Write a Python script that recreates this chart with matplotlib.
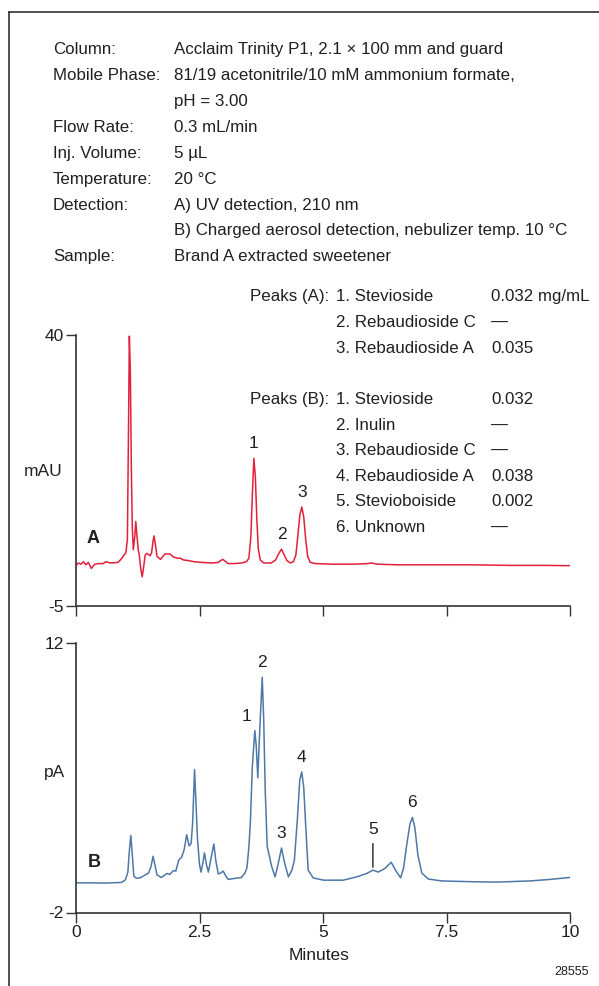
import matplotlib
matplotlib.use("Agg")
import matplotlib.pyplot as plt
import numpy as np
from matplotlib.lines import Line2D

plt.rcParams['font.family'] = ['Liberation Sans', 'DejaVu Sans']
plt.rcParams['axes.unicode_minus'] = False

# ---- data ----
# A) UV detection, 210 nm
time_a = [0.00, 0.05, 0.10, 0.15, 0.20, 0.25, 0.31, 0.38, 0.45, 0.55, 0.60, 0.70, 0.85, 0.92,
          0.96, 1.01, 1.04, 1.06, 1.08, 1.10, 1.12, 1.14, 1.16, 1.19, 1.21, 1.23, 1.26, 1.28,
          1.31, 1.34, 1.37, 1.40, 1.43, 1.47, 1.50, 1.53, 1.56, 1.58, 1.61, 1.64, 1.68, 1.71,
          1.76, 1.80, 1.90, 1.97, 2.05, 2.11, 2.18, 2.27, 2.40, 2.55, 2.75, 2.88, 2.93, 2.97,
          3.02, 3.08, 3.20, 3.35, 3.45, 3.50, 3.54, 3.57, 3.60, 3.63, 3.66, 3.69, 3.73, 3.80,
          3.95, 4.04, 4.10, 4.16, 4.21, 4.27, 4.34, 4.40, 4.45, 4.49, 4.53, 4.57, 4.61, 4.65,
          4.69, 4.74, 4.85, 5.20, 5.60, 5.90, 5.98, 6.10, 6.50, 7.20, 8.00, 8.80, 9.50, 10.00]
signal_a = [1.7, 2.1, 1.9, 2.3, 1.8, 2.2, 1.2, 1.9, 2.0, 2.0, 2.3, 2.1, 2.2, 2.8,
            3.3, 3.8, 6.0, 22.0, 39.8, 34.0, 18.0, 8.0, 4.3, 6.5, 9.0, 7.0, 4.3, 3.5,
            1.2, -0.2, 1.5, 3.4, 3.7, 3.5, 3.3, 3.8, 5.8, 6.6, 5.0, 3.2, 2.9, 2.7,
            3.2, 3.6, 3.6, 3.1, 2.9, 2.9, 2.6, 2.5, 2.3, 2.2, 2.1, 2.2, 2.5, 2.7,
            2.4, 2.0, 2.0, 2.1, 2.3, 2.9, 6.5, 13.5, 19.5, 16.5, 9.5, 4.5, 2.6, 2.1,
            2.1, 2.6, 3.6, 4.4, 3.5, 2.5, 2.1, 2.3, 3.4, 6.5, 10.0, 11.4, 9.8, 6.0,
            3.2, 2.2, 2.0, 1.9, 1.9, 2.0, 2.1, 1.9, 1.8, 1.8, 1.8, 1.7, 1.7, 1.65]

# B) Charged aerosol detection
time_b = [0.00, 0.30, 0.60, 0.92, 1.00, 1.05, 1.08, 1.11, 1.14, 1.17, 1.22, 1.30, 1.40, 1.47,
          1.52, 1.56, 1.60, 1.64, 1.73, 1.84, 1.90, 1.97, 2.02, 2.08, 2.14, 2.19, 2.24, 2.29,
          2.33, 2.36, 2.40, 2.43, 2.46, 2.50, 2.53, 2.57, 2.60, 2.64, 2.68, 2.74, 2.79, 2.83,
          2.88, 2.93, 2.98, 3.03, 3.08, 3.18, 3.35, 3.42, 3.46, 3.50, 3.53, 3.57, 3.62, 3.65,
          3.68, 3.72, 3.77, 3.80, 3.83, 3.87, 3.96, 4.03, 4.09, 4.16, 4.22, 4.30, 4.37, 4.42,
          4.48, 4.53, 4.57, 4.61, 4.65, 4.70, 4.80, 5.01, 5.41, 5.68, 5.88, 6.01, 6.12, 6.26,
          6.38, 6.48, 6.57, 6.63, 6.70, 6.76, 6.81, 6.86, 6.92, 7.00, 7.13, 7.40, 8.00, 8.52,
          9.19, 9.60, 10.00]
signal_b = [-0.46, -0.46, -0.47, -0.44, -0.30, 0.10, 1.20, 2.00, 1.00, -0.10, -0.22, -0.20, -0.05, 0.05,
            0.40, 0.92, 0.45, -0.05, -0.18, 0.03, -0.02, 0.18, 0.15, 0.72, 0.88, 1.27, 2.04, 1.46,
            1.58, 2.60, 5.42, 3.60, 1.80, 0.50, 0.10, 0.60, 1.10, 0.50, 0.10, 0.90, 1.56, 0.70,
            0.00, 0.05, 0.15, -0.10, -0.28, -0.24, -0.18, 0.05, 0.32, 1.40, 2.70, 5.60, 7.45, 6.60,
            5.00, 7.50, 10.22, 8.00, 4.40, 1.44, 0.40, -0.15, 0.50, 1.35, 0.60, -0.15, 0.20, 0.70,
            2.80, 4.90, 5.30, 4.50, 2.50, 0.20, -0.20, -0.32, -0.32, -0.15, 0.02, 0.20, 0.10, 0.30,
            0.61, 0.15, -0.20, 0.30, 1.60, 2.60, 2.94, 2.40, 1.00, 0.05, -0.26, -0.36, -0.40, -0.42,
            -0.36, -0.28, -0.18]

peaks_a_num = ["1", "2", "3"]
peaks_a_time = [3.60, 4.16, 4.57]
peaks_b_num = ["1", "2", "3", "4", "5", "6"]
peaks_b_time = [3.62, 3.77, 4.16, 4.57, 6.01, 6.81]

header_labels = ["Column:", "Mobile Phase:", "", "Flow Rate:", "Inj. Volume:",
                 "Temperature:", "Detection:", "", "Sample:"]
header_values = ["Acclaim Trinity P1, 2.1 \u00d7 100 mm and guard",
                 "81/19 acetonitrile/10 mM ammonium formate,",
                 "pH = 3.00",
                 "0.3 mL/min",
                 "5 \u00b5L",
                 "20 \u00b0C",
                 "A) UV detection, 210 nm",
                 "B) Charged aerosol detection, nebulizer temp. 10 \u00b0C",
                 "Brand A extracted sweetener"]

table_a_names = ["1. Stevioside", "2. Rebaudioside C", "3. Rebaudioside A"]
table_a_conc = ["0.032 mg/mL", "\u2014", "0.035"]
table_b_names = ["1. Stevioside", "2. Inulin", "3. Rebaudioside C", "4. Rebaudioside A",
                 "5. Stevioboiside", "6. Unknown"]
table_b_conc = ["0.032", "\u2014", "\u2014", "0.038", "0.002", "\u2014"]

# ---- figure ----
W, H = 599, 986
fig = plt.figure(figsize=(W / 100, H / 100), dpi=100)


def fx(x):
    return x / W


def fy(y):
    return 1 - y / H


fs = 12.2
tc = "#231f20"
red = "#e3203c"
blue = "#4e78a8"
bl = 6  # baseline offset (px) below row centre

# outer frame (top and left edges visible)
fig.add_artist(Line2D([fx(9), fx(9)], [fy(12), 0], color="#333333", lw=1.2))
fig.add_artist(Line2D([fx(9), 1], [fy(12), fy(12)], color="#333333", lw=1.2))

# conditions block
row_y = [48, 74, 100, 126, 152, 178, 204, 229, 255]
for lab, val, y in zip(header_labels, header_values, row_y):
    if lab:
        fig.text(fx(53), fy(y + bl), lab, fontsize=fs, color=tc, va="baseline", ha="left")
    fig.text(fx(174), fy(y + bl), val, fontsize=fs, color=tc, va="baseline", ha="left")

# peak tables
ya = [295, 321, 347]
yb = [398, 424, 449, 475, 500, 526]
fig.text(fx(250), fy(ya[0] + bl), "Peaks (A):", fontsize=fs, color=tc, va="baseline")
for n, c, y in zip(table_a_names, table_a_conc, ya):
    fig.text(fx(336), fy(y + bl), n, fontsize=fs, color=tc, va="baseline")
    fig.text(fx(491), fy(y + bl), c, fontsize=fs, color=tc, va="baseline")
fig.text(fx(250), fy(yb[0] + bl), "Peaks (B):", fontsize=fs, color=tc, va="baseline")
for n, c, y in zip(table_b_names, table_b_conc, yb):
    fig.text(fx(336), fy(y + bl), n, fontsize=fs, color=tc, va="baseline")
    fig.text(fx(491), fy(y + bl), c, fontsize=fs, color=tc, va="baseline")


def style_axes(ax, ylo, yhi):
    ax.set_xlim(0, 10)
    ax.set_ylim(ylo, yhi)
    for s in ["top", "right"]:
        ax.spines[s].set_visible(False)
    for s in ["left", "bottom"]:
        ax.spines[s].set_color("#333333")
        ax.spines[s].set_linewidth(1.2)
    ax.set_xticks([0, 2.5, 5, 7.5, 10])
    ax.set_yticks([ylo, yhi])
    ax.set_yticklabels([str(ylo), str(yhi)])
    ax.tick_params(direction="out", length=7, width=1.0, color="#333333",
                   labelsize=fs + 0.3, labelcolor=tc, pad=2)
    ax.patch.set_alpha(0)


ax_a = fig.add_axes([fx(76), fy(605.7), fx(570) - fx(76), (605.7 - 335) / H])
ax_b = fig.add_axes([fx(76), fy(912.5), fx(570) - fx(76), (912.5 - 643) / H])

ax_a.plot(time_a, signal_a, color=red, lw=1.1)
style_axes(ax_a, -5, 40)
ax_a.set_xticklabels([])
ax_a.text(0.35, 6.2, "A", fontsize=13, fontweight="bold", color=tc, ha="center", va="center")
for num, t in zip(peaks_a_num, peaks_a_time):
    h = np.interp(t, time_a, signal_a)
    ax_a.annotate(num, (t, h), xytext=(0, 5), textcoords="offset points",
                  ha="center", va="bottom", fontsize=fs + 0.3, color=tc)

ax_b.plot(time_b, signal_b, color=blue, lw=1.1)
style_axes(ax_b, -2, 12)
ax_b.set_xticklabels(["0", "2.5", "5", "7.5", "10"])
ax_b.text(0.37, 0.6, "B", fontsize=13, fontweight="bold", color=tc, ha="center", va="center")
label_dx = {"1": -6}
for num, t in zip(peaks_b_num, peaks_b_time):
    h = np.interp(t, time_b, signal_b)
    if num == "5":
        ax_b.annotate(num, (t, h + 0.15), xytext=(0, 22), textcoords="offset points",
                      ha="center", va="bottom", fontsize=fs + 0.3, color=tc,
                      arrowprops=dict(arrowstyle="-", color=tc, lw=1.0,
                                      shrinkA=3, shrinkB=0))
    else:
        ax_b.annotate(num, (t, h), xytext=(label_dx.get(num, 0), 5), textcoords="offset points",
                      ha="center", va="bottom", fontsize=fs + 0.3, color=tc)

fig.text(fx(43), fy(471), "mAU", fontsize=fs + 0.3, color=tc, ha="center", va="center")
fig.text(fx(55), fy(773), "pA", fontsize=fs + 0.3, color=tc, ha="center", va="center")
fig.text(fx(319), fy(956), "Minutes", fontsize=fs + 0.3, color=tc, ha="center", va="center")
fig.text(fx(589), fy(972), "28555", fontsize=9, color=tc, ha="right", va="center")

fig.savefig("out.png", dpi=100)
